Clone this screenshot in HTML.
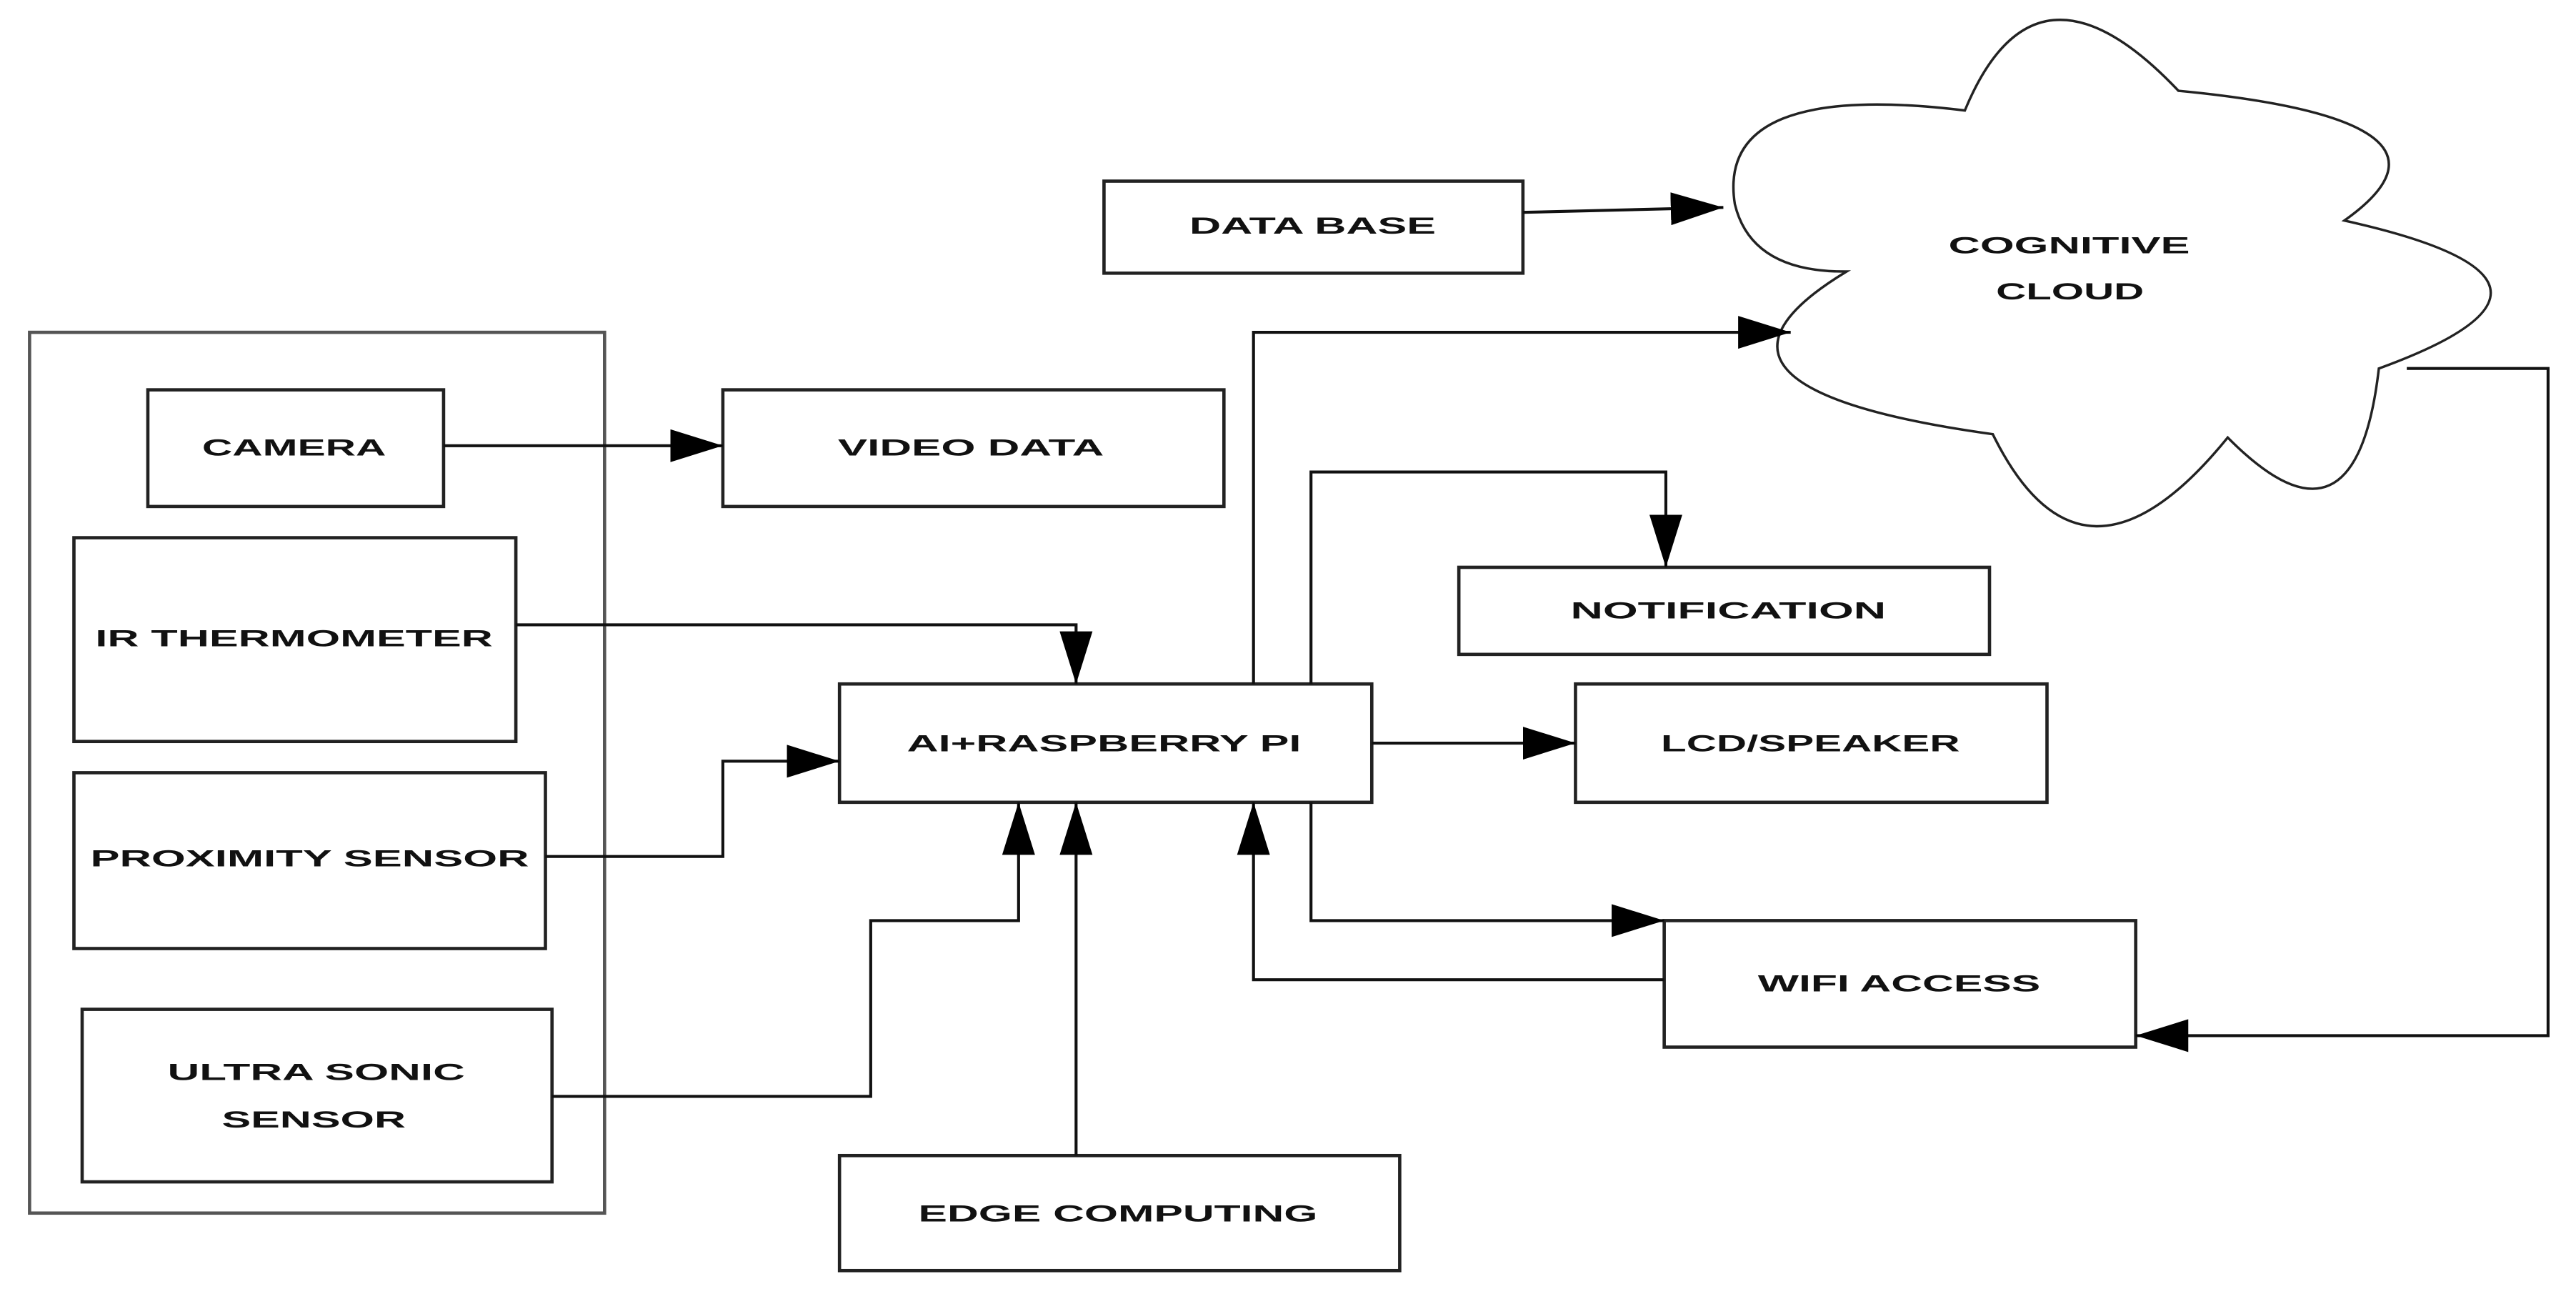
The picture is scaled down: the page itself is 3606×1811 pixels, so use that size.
<!DOCTYPE html>
<html><head><meta charset="utf-8"><style>html,body{margin:0;padding:0;background:#fff}svg{display:block}</style></head>
<body>
<svg width="3606" height="1811" viewBox="0 0 1568 787" xmlns="http://www.w3.org/2000/svg">
<defs><marker id="a" markerWidth="10" markerHeight="8" refX="10" refY="4" orient="auto" markerUnits="userSpaceOnUse" viewBox="0 0 10 8"><path d="M0,0L10,4L0,8Z" fill="#000"/></marker>
<marker id="b" markerWidth="32" markerHeight="20" refX="32" refY="10" orient="auto" markerUnits="userSpaceOnUse" viewBox="0 0 32 20"><path d="M0,0L32,10L0,20Z" fill="#000"/></marker></defs>
<g fill="none" stroke="#222" stroke-width="2">
<rect x="18" y="202" width="350" height="536" stroke="#555"/>
<rect x="90" y="237" width="180" height="71"/>
<rect x="45" y="327" width="269" height="124"/>
<rect x="45" y="470" width="287" height="107"/>
<rect x="50" y="614" width="286" height="105"/>
<rect x="440" y="237" width="305" height="71"/>
<rect x="672" y="110" width="255" height="56"/>
<rect x="511" y="416" width="324" height="72"/>
<rect x="888" y="345" width="323" height="53"/>
<rect x="959" y="416" width="287" height="72"/>
<rect x="1013" y="560" width="287" height="77"/>
<rect x="511" y="703" width="341" height="70"/>
<path stroke-width="1.5" d="M1056,124 Q1044,48.5 1196,67 Q1239,-37 1326,55 Q1513,73 1427,134 Q1594,171 1448,224 Q1434,345 1356,266 Q1267.5,375 1213,264 Q1007.5,235.5 1124,165 Q1066,165.5 1056,124Z"/>
</g>
<g fill="none" stroke="#111" stroke-width="1.8">
<path d="M270,271H440" marker-end="url(#b)"/>
<path d="M314,380H655V416" marker-end="url(#b)"/>
<path d="M332,521H440V463H511" marker-end="url(#b)"/>
<path d="M336,667H530V560H620V488" marker-end="url(#b)"/>
<path d="M655,703V488" marker-end="url(#b)"/>
<path d="M763,416V202H1090" marker-end="url(#b)"/>
<path d="M798,416V287H1014V345" marker-end="url(#b)"/>
<path d="M835,452H959" marker-end="url(#b)"/>
<path d="M798,488V560H1013" marker-end="url(#b)"/>
<path d="M1013,596H763V488" marker-end="url(#b)"/>
<path d="M927,129L1049,126" marker-end="url(#b)"/>
<path d="M1465,224H1551V630H1300" marker-end="url(#b)"/>
</g>
<g font-family="Liberation Sans, sans-serif" font-weight="bold" font-size="14" fill="#111" lengthAdjust="spacingAndGlyphs">
<text x="123" y="277" textLength="112" lengthAdjust="spacingAndGlyphs">CAMERA</text>
<text x="510" y="277" textLength="162" lengthAdjust="spacingAndGlyphs">VIDEO DATA</text>
<text x="58" y="393" textLength="242" lengthAdjust="spacingAndGlyphs">IR THERMOMETER</text>
<text x="55" y="527" textLength="267" lengthAdjust="spacingAndGlyphs">PROXIMITY SENSOR</text>
<text x="102" y="657" textLength="181" lengthAdjust="spacingAndGlyphs">ULTRA SONIC</text>
<text x="135" y="686" textLength="112" lengthAdjust="spacingAndGlyphs">SENSOR</text>
<text x="724" y="142" textLength="150" lengthAdjust="spacingAndGlyphs">DATA BASE</text>
<text x="552" y="457" textLength="240" lengthAdjust="spacingAndGlyphs">AI+RASPBERRY PI</text>
<text x="956" y="376" textLength="192" lengthAdjust="spacingAndGlyphs">NOTIFICATION</text>
<text x="1011" y="457" textLength="182" lengthAdjust="spacingAndGlyphs">LCD/SPEAKER</text>
<text x="1070" y="603" textLength="172" lengthAdjust="spacingAndGlyphs">WIFI ACCESS</text>
<text x="559" y="743" textLength="243" lengthAdjust="spacingAndGlyphs">EDGE COMPUTING</text>
<text x="1186" y="154" textLength="147" lengthAdjust="spacingAndGlyphs">COGNITIVE</text>
<text x="1215" y="182" textLength="90" lengthAdjust="spacingAndGlyphs">CLOUD</text>
</g>
</svg>
</body></html>
